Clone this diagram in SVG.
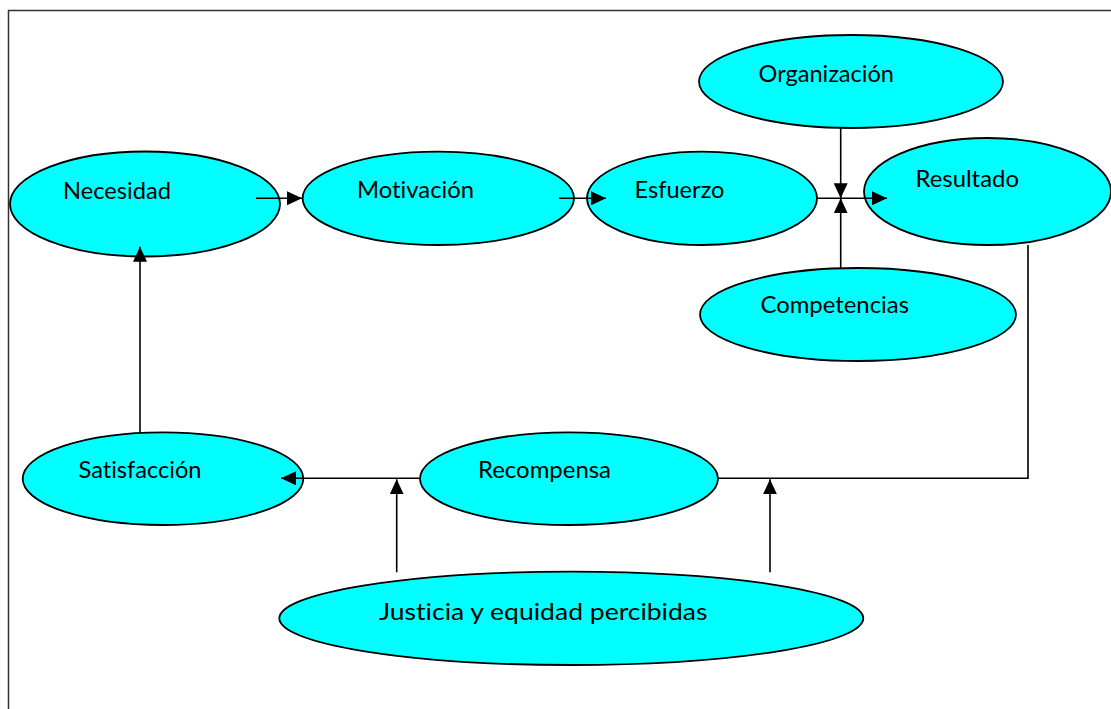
<svg xmlns="http://www.w3.org/2000/svg" width="1111" height="709" viewBox="0 0 1111 709">
<style>
.node ellipse{fill:#00FFFF;stroke:#000;stroke-width:1.8}
.node text{font-family:Lato,"Open Sans",sans-serif;font-size:23.5px;fill:#000;font-variant-ligatures:none;font-feature-settings:"liga" 0,"dlig" 0}
.conn line,.conn polyline{stroke:#000;stroke-width:1.6;fill:none}
</style>
<defs>
<marker id="arr" markerUnits="userSpaceOnUse" markerWidth="16" markerHeight="14" refX="15" refY="7" orient="auto">
<path d="M0,0 L15,7 L0,14 Z" fill="#000"/>
</marker>
</defs>
<rect x="8.5" y="10.5" width="1110" height="710" fill="#fff" stroke="#333" stroke-width="1.5"/>
<g id="necesidad" class="node"><ellipse cx="145" cy="204" rx="135" ry="52.5"/><text x="63" y="199" textLength="108" lengthAdjust="spacingAndGlyphs">Necesidad</text></g>
<g id="motivacion" class="node"><ellipse cx="438.3" cy="198.3" rx="135.7" ry="46.7"/><text x="357" y="198.3" textLength="117" lengthAdjust="spacingAndGlyphs">Motivación</text></g>
<g id="esfuerzo" class="node"><ellipse cx="702" cy="198.3" rx="115" ry="46.7"/><text x="634.5" y="198.3" textLength="90" lengthAdjust="spacingAndGlyphs">Esfuerzo</text></g>
<g id="organizacion" class="node"><ellipse cx="851" cy="81.5" rx="152" ry="46.5"/><text x="758.5" y="81.7" textLength="135.5" lengthAdjust="spacingAndGlyphs">Organización</text></g>
<g id="resultado" class="node"><ellipse cx="987.5" cy="191.5" rx="123.5" ry="53.5"/><text x="915.5" y="186.7" textLength="103.5" lengthAdjust="spacingAndGlyphs">Resultado</text></g>
<g id="competencias" class="node"><ellipse cx="858" cy="314.5" rx="158" ry="46.5"/><text x="760.5" y="313.3" textLength="148.5" lengthAdjust="spacingAndGlyphs">Competencias</text></g>
<g id="satisfaccion" class="node"><ellipse cx="163" cy="478.7" rx="140.3" ry="46.3"/><text x="78.5" y="478.3" textLength="123" lengthAdjust="spacingAndGlyphs">Satisfacción</text></g>
<g id="recompensa" class="node"><ellipse cx="569" cy="478.7" rx="149" ry="46.3"/><text x="478" y="478.3" textLength="133" lengthAdjust="spacingAndGlyphs">Recompensa</text></g>
<g id="justicia" class="node"><ellipse cx="571.3" cy="618.3" rx="292" ry="46.7"/><text x="379" y="620" textLength="328.5" lengthAdjust="spacingAndGlyphs">Justicia y equidad percibidas</text></g>
<g id="connectors" class="conn">
<line x1="256" y1="198.3" x2="302" y2="198.3" marker-end="url(#arr)"/>
<line x1="559" y1="198.3" x2="606" y2="198.3" marker-end="url(#arr)"/>
<line x1="817" y1="198.3" x2="887" y2="198.3" marker-end="url(#arr)"/>
<line x1="840.7" y1="128" x2="840.7" y2="198.3" marker-end="url(#arr)"/>
<line x1="840.7" y1="268" x2="840.7" y2="198.3" marker-end="url(#arr)"/>
<polyline points="1028,245 1028,478.3 718,478.3"/>
<line x1="420" y1="478.3" x2="281" y2="478.3" marker-end="url(#arr)"/>
<line x1="396.7" y1="572.3" x2="396.7" y2="479.3" marker-end="url(#arr)"/>
<line x1="770" y1="572.3" x2="770" y2="479.3" marker-end="url(#arr)"/>
<line x1="140" y1="432.3" x2="140" y2="246.7" marker-end="url(#arr)"/>
</g>
</svg>
